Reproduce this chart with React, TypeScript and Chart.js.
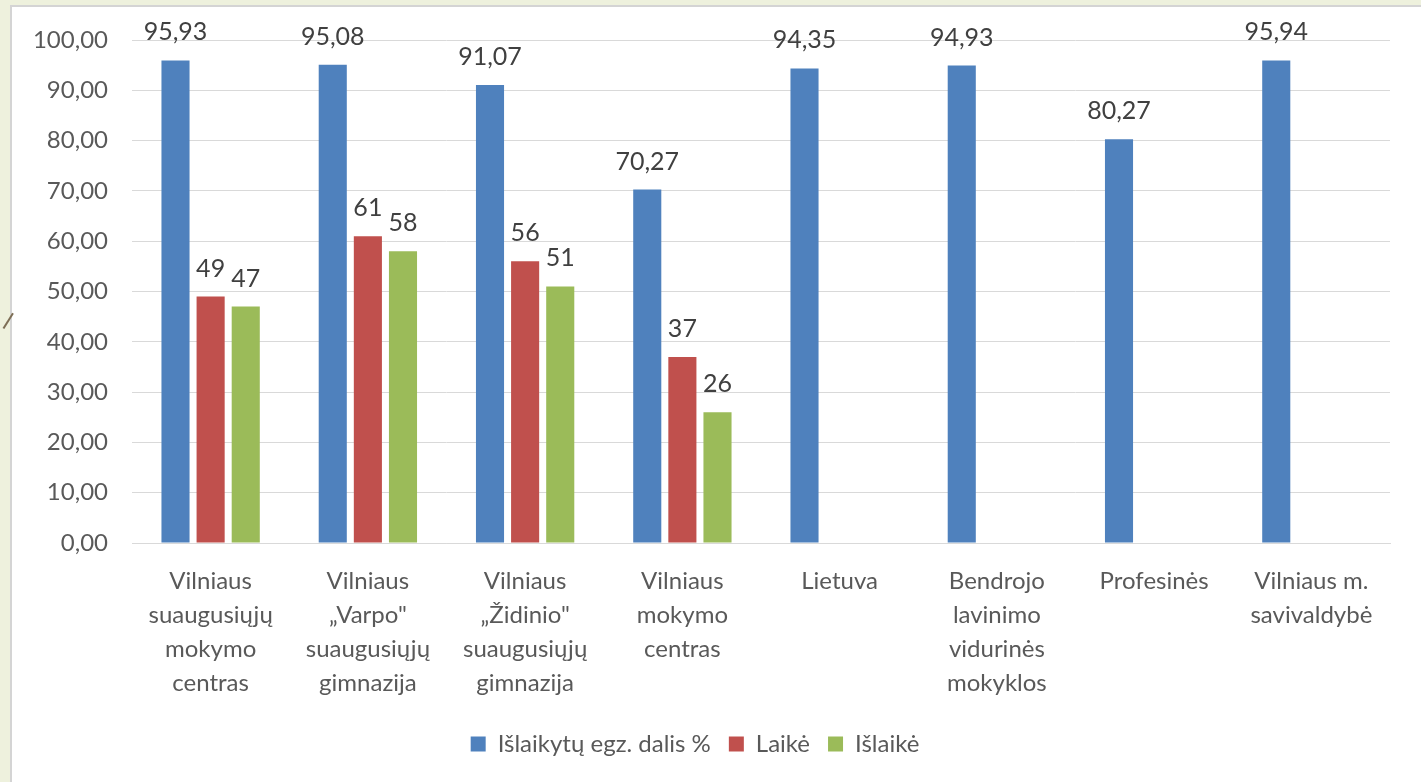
import React, { useEffect, useRef } from "react";
import { Chart, registerables } from "chart.js";

Chart.register(...registerables);

const categories: string[][] = [
  ["Vilniaus", "suaugusiųjų", "mokymo", "centras"],
  ["Vilniaus", "„Varpo\"", "suaugusiųjų", "gimnazija"],
  ["Vilniaus", "„Židinio\"", "suaugusiųjų", "gimnazija"],
  ["Vilniaus", "mokymo", "centras"],
  ["Lietuva"],
  ["Bendrojo", "lavinimo", "vidurinės", "mokyklos"],
  ["Profesinės"],
  ["Vilniaus m.", "savivaldybė"],
];

const passedShare: (number | null)[] = [95.93, 95.08, 91.07, 70.27, 94.35, 94.93, 80.27, 95.94];
const tookExam: (number | null)[] = [49, 61, 56, 37, null, null, null, null];
const passedExam: (number | null)[] = [47, 58, 51, 26, null, null, null, null];

const seriesNames = ["Išlaikytų egz. dalis %", "Laikė", "Išlaikė"];
const seriesDecimals = [2, 0, 0];
const seriesColors = ["#4f81bd", "#c0504d", "#9bbb59"];

const FONT = "Lato, Carlito, Calibri, sans-serif";

const fmt = (v: number, d: number) => v.toFixed(d).replace(".", ",");

const dataLabelPlugin = {
  id: "dataLabels",
  afterDatasetsDraw(chart: any) {
    const ctx = chart.ctx;
    ctx.save();
    ctx.font = `25px ${FONT}`;
    ctx.fillStyle = "#404040";
    ctx.textAlign = "center";
    ctx.textBaseline = "alphabetic";
    chart.data.datasets.forEach((ds: any, di: number) => {
      const meta = chart.getDatasetMeta(di);
      meta.data.forEach((el: any, i: number) => {
        const v = ds.data[i];
        if (v === null || v === undefined) return;
        ctx.fillText(fmt(v, seriesDecimals[di]), el.x, el.y - 20);
      });
    });
    ctx.restore();
  },
};

export default function App() {
  const ref = useRef<HTMLCanvasElement | null>(null);
  useEffect(() => {
    if (!ref.current) return;
    const chart = new Chart(ref.current, {
      type: "bar",
      data: {
        labels: categories,
        datasets: [passedShare, tookExam, passedExam].map((d, i) => ({
          label: seriesNames[i],
          data: d,
          backgroundColor: seriesColors[i],
          borderWidth: 0,
          categoryPercentage: 0.67,
          barPercentage: 0.8,
        })),
      },
      options: {
        responsive: false,
        animation: false,
        layout: { padding: { top: 40, right: 31, bottom: 16, left: 0 } },
        plugins: {
          tooltip: { enabled: false },
          legend: {
            position: "bottom",
            labels: {
              font: { family: FONT, size: 24 },
              color: "#595959",
              boxWidth: 15,
              boxHeight: 15,
              padding: 18,
            },
          },
        },
        scales: {
          x: {
            grid: { display: false, drawTicks: false },
            border: { display: true, color: "#d9d9d9", width: 1 },
            ticks: {
              font: { family: FONT, size: 24, lineHeight: 34 / 24 },
              color: "#595959",
              padding: 21,
              maxRotation: 0,
              autoSkip: false,
            },
            afterFit: (s: any) => {
              s.height = 171;
            },
          },
          y: {
            min: 0,
            max: 100,
            grid: { color: "#d9d9d9", drawTicks: false },
            border: { display: false },
            ticks: {
              stepSize: 10,
              font: { family: FONT, size: 24 },
              color: "#595959",
              padding: 24,
              callback: (v: any) => fmt(Number(v), 2),
            },
            afterFit: (s: any) => {
              s.width = 132;
            },
          },
        },
      },
      plugins: [dataLabelPlugin],
    });
    return () => chart.destroy();
  }, []);

  return (
    <div
      style={{
        position: "fixed",
        left: 0,
        top: 0,
        width: 1421,
        height: 782,
        background: "#eef1dd",
        overflow: "hidden",
      }}
    >
      <div
        style={{
          position: "absolute",
          left: 10,
          top: 5,
          right: 0,
          bottom: 0,
          background: "#ffffff",
          borderLeft: "2px solid #d4d4d4",
          borderTop: "2px solid #d4d4d4",
        }}
      />
      <div
        style={{
          position: "absolute",
          left: -1,
          top: 320,
          width: 18,
          height: 1.5,
          background: "#7d6e55",
          transform: "rotate(-58deg)",
          transformOrigin: "center",
        }}
      />
      <canvas
        ref={ref}
        width={1421}
        height={782}
        style={{ position: "absolute", left: 0, top: 0, width: 1421, height: 782 }}
      />
    </div>
  );
}
